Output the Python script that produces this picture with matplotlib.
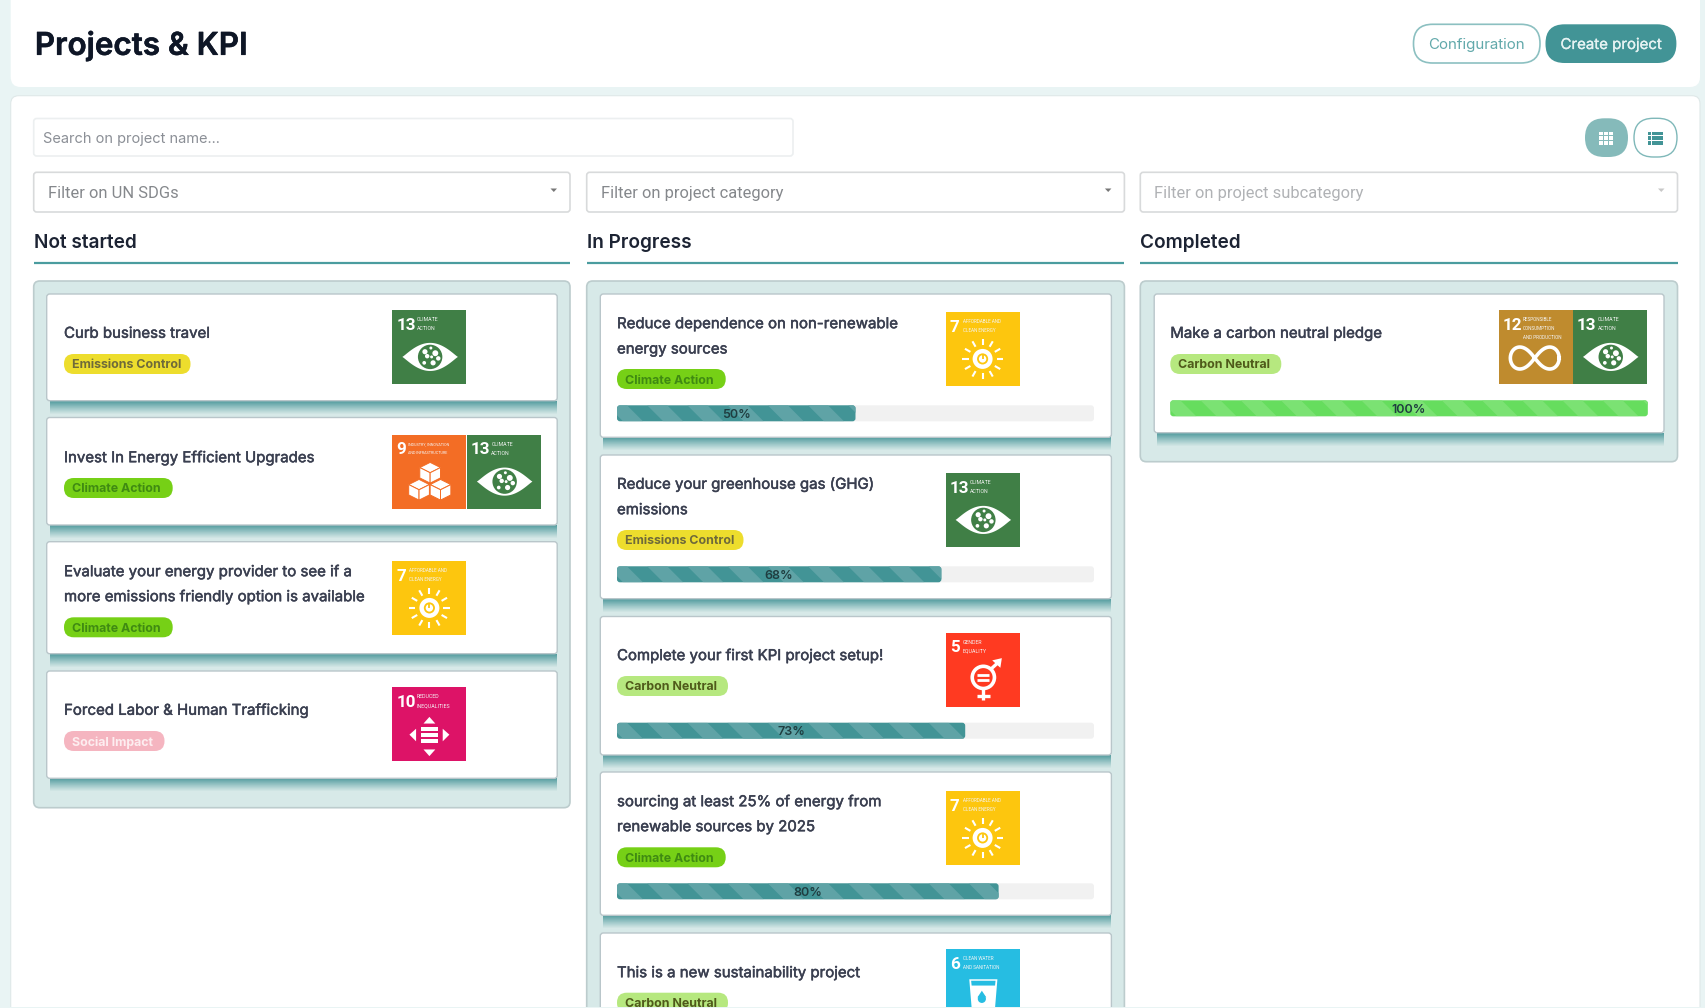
import numpy as np
import matplotlib
matplotlib.use("Agg")
import matplotlib.pyplot as plt
import matplotlib.patheffects as pe
from matplotlib.patches import FancyBboxPatch, Rectangle, Polygon, Circle
from matplotlib import font_manager as fm

# ---------- content ----------
PAGE_TITLE = "Projects & KPI"
BUTTONS = ["Configuration", "Create project"]
SEARCH = "Search on project name..."
FILTERS = ["Filter on UN SDGs", "Filter on project category", "Filter on project subcategory"]
COLUMNS = ["Not started", "In Progress", "Completed"]

NS_TITLES = ["Curb business travel", "Invest In Energy Efficient Upgrades",
             "Evaluate your energy provider to see if a\nmore emissions friendly option is available",
             "Forced Labor & Human Trafficking"]
NS_BADGES = ["Emissions Control", "Climate Action", "Climate Action", "Social Impact"]
NS_SDGS = [[13], [9, 13], [7], [10]]

IP_TITLES = ["Reduce dependence on non-renewable\nenergy sources",
             "Reduce your greenhouse gas (GHG)\nemissions",
             "Complete your first KPI project setup!",
             "sourcing at least 25% of energy from\nrenewable sources by 2025",
             "This is a new sustainability project"]
IP_BADGES = ["Climate Action", "Emissions Control", "Carbon Neutral", "Climate Action", "Carbon Neutral"]
IP_SDGS = [[7], [13], [5], [7], [6]]
IP_PROGRESS = [50, 68, 73, 80, None]

DONE_TITLES = ["Make a carbon neutral pledge"]
DONE_BADGES = ["Carbon Neutral"]
DONE_SDGS = [[12, 13]]
DONE_PROGRESS = [100]

SDG_CAPTIONS = {13: "CLIMATE\nACTION", 9: "INDUSTRY, INNOVATION\nAND INFRASTRUCTURE", 7: "AFFORDABLE AND\nCLEAN ENERGY",
                10: "REDUCED\nINEQUALITIES", 5: "GENDER\nEQUALITY", 6: "CLEAN WATER\nAND SANITATION",
                12: "RESPONSIBLE\nCONSUMPTION\nAND PRODUCTION"}
SDG_COLORS = {13: "#407f46", 9: "#f36d25", 7: "#fdc60e", 10: "#dd1367", 5: "#ff3a21", 6: "#26bde2", 12: "#bf8b2e"}
BADGE_STYLE = {"Emissions Control": ("#eddd2d", "#6f6a3a", 126.5),
               "Climate Action": ("#76d016", "#3f8a12", 108.7),
               "Carbon Neutral": ("#b6e87f", "#4f5a1a", 111.0),
               "Social Impact": ("#f5b5c0", "#fdeef0", 100.5)}

# ---------- layout (pixels) ----------
BG = "#e9f4f4"; PANEL = "#d7e9e8"; TEAL = "#429496"; DARK = "#1c2333"; CARD_TXT = "#3a3f50"
COL_X = [(33.7, 570.0), (586.7, 1124.4), (1140.3, 1677.5)]
PANEL_BOTTOM = [807.7, 1100.0, 461.7]

NS_Y = [(294, 400.7, [332.3], 364, 310.3), (417.5, 525, [456.7], 488, 435),
        (541.7, 653.7, [570.7, 595.7], 627.3, 561.3), (671, 778.3, [709.3], 741, 687.3)]
IP_Y = [(294, 437.3, [322.7, 348], 379, 312.3, 413.3), (455, 598.7, [483.3, 508.7], 540, 473.3, 574.3),
        (616.5, 755, [654.6], 686, 633, 730.7), (772, 915.3, [800.7, 825.7], 857.3, 791.3, 891.3),
        (933, 1100, [971.7], 1002.7, 949.3, None)]
DONE_Y = [(294, 432.7, [332.3], 364, 310.3, 408.3)]

avail = {f.name for f in fm.fontManager.ttflist}
F_MAIN = "Inter" if "Inter" in avail else "DejaVu Sans"
F_FORM = "Roboto"
F_NARROW = "Liberation Sans Narrow" if "Liberation Sans Narrow" in avail else "Roboto"

fig = plt.figure(figsize=(17.05, 10.08), dpi=100, facecolor=BG)
ax = fig.add_axes([0, 0, 1, 1])
ax.set_xlim(0, 1705); ax.set_ylim(1008, 0); ax.axis("off")


def px(p):
    return p * 0.72


def rbox(x0, y0, x1, y1, r, fc, ec="none", lw=0, z=1):
    p = FancyBboxPatch((x0 + r, y0 + r), x1 - x0 - 2 * r, y1 - y0 - 2 * r,
                       boxstyle=f"round,pad={r},rounding_size={r}", fc=fc, ec=ec, lw=lw, zorder=z)
    ax.add_patch(p)
    return p


def txt(x, y, s, size, color, weight="normal", ha="left", family=None, z=6, stroke=0, **kw):
    t = ax.text(x, y, s, fontsize=px(size), color=color, fontweight=weight, ha=ha, va="center_baseline",
                family=family or F_MAIN, zorder=z, **kw)
    if stroke:
        t.set_path_effects([pe.withStroke(linewidth=stroke, foreground=color)])
    return t


def glyph(sdg, x, y, s, z=4):
    W = "white"; col = SDG_COLORS[sdg]
    P = lambda a, b: (x + a * s, y + b * s)
    def poly(pts, fc=W, ec="none", lw=0, zz=z + 1):
        ax.add_patch(Polygon([P(*q) for q in pts], closed=True, fc=fc, ec=ec, lw=lw, zorder=zz))
    def line(a, b, c, d, lw=1.6, color=W, zz=z + 1):
        ax.plot([x + a * s, x + c * s], [y + b * s, y + d * s], color=color, lw=lw, solid_capstyle="butt", zorder=zz)
    def circ(a, b, r, fc=W, ec="none", lw=0, zz=z + 1):
        ax.add_patch(Circle(P(a, b), r * s, fc=fc, ec=ec, lw=lw, zorder=zz))
    if sdg == 13:
        t = np.linspace(-1, 1, 40)
        top = [(0.51 + 0.375 * u, 0.63 - 0.19 * (1 - u * u) ** 1.15) for u in t]
        bot = [(0.51 + 0.375 * u, 0.63 + 0.19 * (1 - u * u) ** 1.15) for u in t[::-1]]
        poly(top + bot)
        circ(0.51, 0.63, 0.165, fc=col)
        for a, b, r in [(0.44, 0.56, 0.035), (0.47, 0.62, 0.03), (0.58, 0.58, 0.04), (0.62, 0.65, 0.03),
                        (0.55, 0.71, 0.035), (0.43, 0.71, 0.025), (0.52, 0.51, 0.02), (0.53, 0.63, 0.02)]:
            circ(a, b, r, zz=z + 2)
    elif sdg == 7:
        circ(0.5, 0.63, 0.135)
        circ(0.5, 0.63, 0.075, fc=col, zz=z + 2)
        circ(0.5, 0.63, 0.05, fc=W, zz=z + 3)
        line(0.5, 0.56, 0.5, 0.635, lw=1.3, color=col, zz=z + 4)
        for a in np.arange(0, 360, 30):
            ca, sa = np.cos(np.radians(a)), np.sin(np.radians(a))
            line(0.5 + 0.19 * ca, 0.63 + 0.19 * sa, 0.5 + 0.275 * ca, 0.63 + 0.275 * sa, lw=1.5)
    elif sdg == 9:
        h = 0.14; v = 0.07; d = 0.14
        for cx, cy in [(0.51, 0.44), (0.36, 0.67), (0.65, 0.67)]:
            poly([(cx, cy - v), (cx + h, cy), (cx, cy + v), (cx - h, cy)], ec=col, lw=0.7)
            poly([(cx - h, cy), (cx, cy + v), (cx, cy + v + d), (cx - h, cy + d)], ec=col, lw=0.7)
            poly([(cx + h, cy), (cx, cy + v), (cx, cy + v + d), (cx + h, cy + d)], ec=col, lw=0.7)
    elif sdg == 10:
        poly([(0.5, 0.40), (0.58, 0.49), (0.42, 0.49)])
        poly([(0.5, 0.93), (0.58, 0.84), (0.42, 0.84)])
        poly([(0.23, 0.64), (0.32, 0.56), (0.32, 0.73)])
        poly([(0.77, 0.64), (0.68, 0.56), (0.68, 0.73)])
        for b in [0.54, 0.62, 0.70]:
            poly([(0.39, b), (0.61, b), (0.61, b + 0.05), (0.39, b + 0.05)])
    elif sdg == 5:
        circ(0.51, 0.60, 0.15, fc="none", ec=W, lw=2.6)
        line(0.51, 0.75, 0.51, 0.91, lw=2.4)
        line(0.43, 0.85, 0.60, 0.85, lw=2.4)
        line(0.61, 0.49, 0.72, 0.39, lw=2.4)
        poly([(0.63, 0.37), (0.76, 0.34), (0.74, 0.47)])
        line(0.43, 0.565, 0.59, 0.565, lw=2.0)
        line(0.43, 0.635, 0.59, 0.635, lw=2.0)
    elif sdg == 6:
        poly([(0.32, 0.405), (0.70, 0.405), (0.655, 0.95), (0.365, 0.95)])
        poly([(0.345, 0.425), (0.675, 0.425), (0.668, 0.49), (0.352, 0.49)], fc=col)
        poly([(0.49, 0.56), (0.55, 0.65), (0.43, 0.65)], fc=col)
        circ(0.49, 0.67, 0.055, fc=col)
    elif sdg == 12:
        t = np.linspace(0, 2 * np.pi, 120)
        d = 1 + np.sin(t) ** 2
        ax.plot(x + (0.49 + 0.33 * np.cos(t) / d) * s, y + (0.645 + 0.42 * np.sin(t) * np.cos(t) / d) * s,
                color=W, lw=2.6, zorder=z + 1)


def sdg_icon(sdg, x, y, s=74):
    ax.add_patch(Rectangle((x, y), s, s, fc=SDG_COLORS[sdg], ec="none", zorder=3))
    n = str(sdg)
    txt(x + 0.055 * s, y + 0.18 * s, n, 17, "white", family=F_NARROW, weight="bold", z=6)
    nx = 0.23 if len(n) == 1 else 0.33
    lines = SDG_CAPTIONS[sdg].split("\n")
    fsize = 5.2
    if sdg == 9:
        fsize = 3.7; nx = 0.21
    elif max(len(l) for l in lines) > 13:
        fsize = 4.6
    for i, l in enumerate(lines):
        txt(x + nx * s, y + (0.12 + 0.12 * i) * s, l, fsize, "#f4f4f4", family=F_NARROW)
    glyph(sdg, x, y, s)


def card(x0, x1, text_x, y, title, badge, sdgs, icon_dx):
    top, bottom, tys, by, iy = y[:5]
    # soft teal shadow below the card
    for i in range(13):
        ax.add_patch(Rectangle((x0 + 3, bottom + i), x1 - x0 - 3, 1, fc="#4f9a9d", ec="none",
                               alpha=0.95 * (1 - i / 13) ** 1.1, zorder=2))
    rbox(x0, top, x1, bottom, 3, "white", "#b9c6ca", 1.0, z=3)
    for l, ty in zip(title.split("\n"), tys):
        txt(text_x, ty, l, TITLE_PX, CARD_TXT, stroke=0.35)
    fc, tc, w = BADGE_STYLE[badge]
    rbox(text_x, by - 10, text_x + w, by + 10, 9.8, fc, z=4)
    txt(text_x + 8, by, badge, BADGE_PX, tc, weight="bold")
    for j, s in enumerate(sdgs):
        sdg_icon(s, text_x + icon_dx + 74.5 * j, iy)


def bar(x0, x1, yc, val, fill, stripe, h=16):
    rbox(x0, yc - h / 2, x1, yc + h / 2, 3, "#f1f1f1", z=4)
    xe = x0 + (x1 - x0) * val / 100
    base = rbox(x0, yc - h / 2, xe, yc + h / 2, 3, fill, z=4.1)
    xs = x0 - 16 + 6
    while xs < xe + 16:
        p = Polygon([(xs, yc - h / 2), (xs + 20, yc - h / 2), (xs + 20 + h, yc + h / 2), (xs + h, yc + h / 2)],
                    closed=True, fc=stripe, ec="none", zorder=4.2)
        ax.add_patch(p)
        p.set_clip_path(base)
        xs += 40.2
    txt((x0 + xe) / 2, yc, f"{val}%", 12.5, "#1f3d40", weight="semibold", ha="center")


TITLE_PX = 15.0
BADGE_PX = 12.4

# ---------- page frames ----------
rbox(10.7, -20, 1700, 87, 10, "white", z=0.5)
rbox(10.7, 95.7, 1700, 1060, 8, "white", "#dfe8e8", 0.8, z=0.5)

txt(34.8, 42.8, PAGE_TITLE, 31.4, "#0e1626", weight="semibold", stroke=0.4)

rbox(1413.5, 24.3, 1540, 63, 19, "white", "#8cc0c1", 1.2, z=1)
txt(1476.8, 43.5, BUTTONS[0], 15.1, "#62a9ab", ha="center")
rbox(1545.5, 24.3, 1676.4, 63, 19, TEAL, z=1)
txt(1611, 43.5, BUTTONS[1], 15.0, "#e6f3f3", ha="center", stroke=0.2)

# search + view buttons
rbox(33.7, 118.5, 793, 156, 3, "white", "#eceff0", 1.2)
txt(43, 137.5, SEARCH, 14.6, "#8b8f96")

rbox(1585, 118.3, 1628, 157, 19.3, "#85baba", z=1)
rbox(1634, 118.3, 1677, 157, 19.3, "white", "#7fb8b9", 1.0, z=1)
for i in range(3):
    for j in range(3):
        ax.add_patch(Rectangle((1599 + 5 * i, 131.5 + 4.6 * j), 4.2, 3.8, fc="white", ec="none", zorder=5))
    ax.add_patch(Rectangle((1648.2, 131.5 + 4.6 * i), 3, 3.8, fc=TEAL, ec="none", zorder=5))
    ax.add_patch(Rectangle((1652.2, 131.5 + 4.6 * i), 10.5, 3.8, fc=TEAL, ec="none", zorder=5))

# filters, headings, panels
for k, (x0, x1) in enumerate(COL_X):
    light = k == 2
    rbox(x0, 172.3, x1, 212, 3, "white", "#d8dadb", 1.2)
    txt(x0 + (14.3 if not light else 13.9), 191.7, FILTERS[k], 16.5, "#b0b2b5" if light else "#85888c", family=F_FORM)
    ax.add_patch(Polygon([(x1 - 19.5, 188.5), (x1 - 13, 188.5), (x1 - 16.2, 192)], closed=True,
                         fc="#c8c8c8" if light else "#777777", ec="none", zorder=5))
    txt(x0, 240.7, COLUMNS[k], 19, "#1c2333", weight="semibold")
    ax.plot([x0, x1], [263.3, 263.3], color="#4a9c9f", lw=1.6, zorder=2, solid_capstyle="butt")
    rbox(x0, 281, x1, PANEL_BOTTOM[k], 6, PANEL, "#bccccd", 1.2, z=1)

# cards
for t, b, s, y in zip(NS_TITLES, NS_BADGES, NS_SDGS, NS_Y):
    card(46.7, 557.2, 64, y, t, b, s, 328.4)

for t, b, s, v, y in zip(IP_TITLES, IP_BADGES, IP_SDGS, IP_PROGRESS, IP_Y):
    card(600.3, 1111.4, 617, y, t, b, s, 328.6)
    if v is not None:
        bar(617, 1094, y[5], v, TEAL, "#5fa3a6")

for t, b, s, v, y in zip(DONE_TITLES, DONE_BADGES, DONE_SDGS, DONE_PROGRESS, DONE_Y):
    card(1154.2, 1664, 1170.3, y, t, b, s, 328.2)
    bar(1170.3, 1647.8, y[5], v, "#66dd5e", "#7be273")

# the screenshot ends just below the page edge
ax.add_patch(Rectangle((0, 1007), 1705, 2, fc=BG, ec="none", zorder=20))

fig.savefig("out.png", dpi=100, facecolor=BG)
